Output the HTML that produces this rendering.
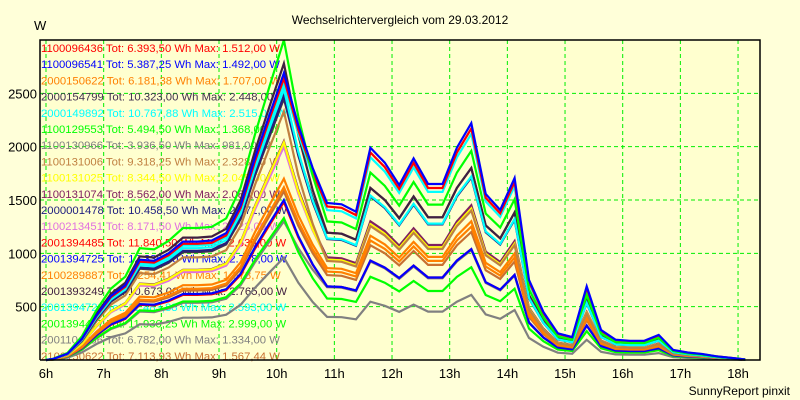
<!DOCTYPE html>
<html><head><meta charset="utf-8"><style>
html,body{margin:0;padding:0;background:#ffffd9;}
svg{display:block;font-family:"Liberation Sans",Arial,sans-serif;}
</style></head><body>
<svg id="chart" width="800" height="400">
<rect x="0" y="0" width="800" height="400" fill="#ffffd9"/>
<text x="400" y="24" text-anchor="middle" font-size="12" fill="#000">Wechselrichtervergleich vom 29.03.2012</text>
<text x="34" y="30" font-size="13" fill="#000">W</text>
<text x="790" y="395" text-anchor="end" font-size="12" fill="#000">SunnyReport pinxit</text>
<g id="grid"></g>
<g id="legend"></g>
<g id="lines"></g>
<g id="axes"></g>
</svg>
<script>
// data
const hourTicks = [6,7,8,9,10,11,12,13,14,15,16,17,18];
const valueTicks = [500,1000,1500,2000,2500];
const times = [6.125,6.375,6.625,6.875,7.125,7.375,7.625,7.875,8.125,8.375,8.625,8.875,9.125,9.375,9.625,9.875,10.125,10.375,10.625,10.875,11.125,11.375,11.625,11.875,12.125,12.375,12.625,12.875,13.125,13.375,13.625,13.875,14.125,14.375,14.625,14.875,15.125,15.375,15.625,15.875,16.125,16.375,16.625,16.875,17.125,17.375,17.625,17.875,18.125];
const profile = [10,60,200,420,600,700,940,930,1000,1110,1110,1120,1190,1450,1900,2300,2690,2200,1800,1472,1460,1390,1990,1850,1640,1890,1650,1650,1990,2220,1556,1406,1706,750,450,250,215,690,280,190,180,180,235,94,70,56,35,20,5];
const seriesNames = ["1100096436 Tot: 6.393,50 Wh Max: 1.512,00 W","1100096541 Tot: 5.387,25 Wh Max: 1.492,00 W","2000150622 Tot: 6.181,38 Wh Max: 1.707,00 W","2000154799 Tot: 10.323,00 Wh Max: 2.448,00 W","2000149892 Tot: 10.767,88 Wh Max: 2.515,00 W","1100129553 Tot: 5.494,50 Wh Max: 1.368,00 W","1100130966 Tot: 3.936,50 Wh Max: 981,00 W","1100131006 Tot: 9.318,25 Wh Max: 2.328,00 W","1100131025 Tot: 8.344,50 Wh Max: 2.045,00 W","1100131074 Tot: 8.562,00 Wh Max: 2.083,00 W","2000001478 Tot: 10.458,50 Wh Max: 2.471,00 W","1100213451 Tot: 8.171,50 Wh Max: 2.023,00 W","2001394485 Tot: 11.840,50 Wh Max: 2.635,00 W","2001394725 Tot: 12.338,00 Wh Max: 2.778,00 W","2100289887 Tot: 7.254,41 Wh Max: 1.678,75 W","2001393249 Tot: 10.673,00 Wh Max: 2.765,00 W","2001394722 Tot: 11.483,88 Wh Max: 2.593,00 W","2001394477 Tot: 11.930,25 Wh Max: 2.999,00 W","2001104856 Tot: 6.782,00 Wh Max: 1.334,00 W","2100150622 Tot: 7.113,93 Wh Max: 1.567,44 W"];
const seriesColors = ["#ff0000","#0000ff","#ff8000","#403050","#00ffff","#00ff00","#808080","#c08040","#ffff00","#802060","#202080","#e070e0","#ff0000","#0000ff","#ff8000","#402040","#00ffff","#00ff00","#808080","#c87030"];
const seriesPeaks = [1480,1500,1700,2450,2540,1330,960,2330,2040,2050,2480,2000,2640,2690,1620,2780,2600,3000,1300,1580];
const seriesAfternoon = [1040,1040,1300,1800,1720,870,610,1400,1420,1450,1710,1420,2170,2220,1250,1800,2120,1960,1030,1200];
const drawOrder = [6,18,5,0,1,19,14,2,11,9,8,7,3,10,15,4,16,12,17,13];

const NS="http://www.w3.org/2000/svg";
const L=40,R=760,T=40,B=360;
const xS=h=>46+(h-6)*57.67;
const yS=v=>B-v*(B-T)/3000;
function mk(tag,attrs,parent){const e=document.createElementNS(NS,tag);for(const k in attrs)e.setAttribute(k,attrs[k]);parent.appendChild(e);return e;}
const grid=document.getElementById('grid'),axes=document.getElementById('axes'),lines=document.getElementById('lines'),legend=document.getElementById('legend');
mk('rect',{x:L,y:T,width:R-L,height:B-T,fill:'#ffffcf'},grid);
hourTicks.forEach(h=>{
  const g=mk('line',{x1:xS(h),x2:xS(h),y1:T,y2:B,stroke:'#00ee00','stroke-dasharray':'4,3','stroke-width':1},grid);
  
  
  const t=mk('text',{x:xS(h),y:378,'text-anchor':'middle','font-size':13},axes);
  t.textContent=h+'h';
  
  
});
valueTicks.forEach(v=>{
  const g=mk('line',{x1:L,x2:R,y1:yS(v),y2:yS(v),stroke:'#00ee00','stroke-dasharray':'4,3','stroke-width':1},grid);
  
  
  const t=mk('text',{x:37,y:yS(v)+5,'text-anchor':'end','font-size':13},axes);
  t.textContent=v;
  
  
});
mk('polyline',{points:`${L},${B} ${L},${T} ${R},${T} ${R},${B} ${L},${B}`,fill:'none',stroke:'#000','stroke-width':1.5},axes);
seriesNames.forEach((n,i)=>{
  const t=mk('text',{x:41,y:52+i*16.2,'font-size':11.3,fill:seriesColors[i]},legend);
  t.textContent=n;
  
  
});
drawOrder.forEach(i=>{
  const kM=seriesPeaks[i]/2690, kA=seriesAfternoon[i]/2220;
  const pts=times.map((t,j)=>{
    let k = j<=16 ? kM : (j>=19 ? kA : kM+(kA-kM)*(j-16)/3);
    return xS(t).toFixed(1)+','+yS(profile[j]*k).toFixed(1);
  });
  pts.unshift(xS(6)+','+B);
  const p=mk('polyline',{points:pts.join(' '),fill:'none',stroke:seriesColors[i],'stroke-width':2.2,'stroke-linejoin':'miter'},lines);
  
  
});
</script>
</body></html>
